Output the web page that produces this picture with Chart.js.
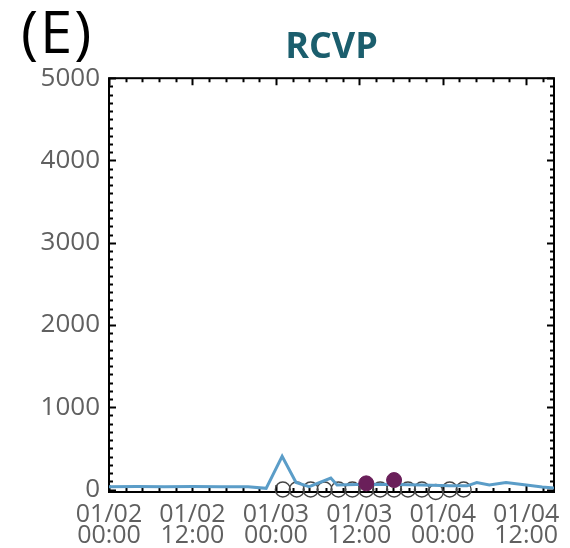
<!DOCTYPE html>
<html>
<head>
<meta charset="utf-8">
<script src="https://cdn.jsdelivr.net/npm/chart.js@4/dist/chart.umd.min.js"></script>
<style>
  html, body { margin: 0; padding: 0; background: #ffffff; }
  #wrap { position: relative; width: 570px; height: 548px; }
  #panel { position: absolute; left: 21px; top: -4px; font: 58px "Open Sans", sans-serif; letter-spacing: 2px; color: #000; line-height: 1.2; }
</style>
</head>
<body>
<div id="wrap">
  <canvas id="c" width="570" height="548"></canvas>
  <div id="panel">(E)</div>
</div>
<script>
// Hours since 01/02 00:00 and the measured series values
const lineHours  = [0, 4, 8, 12, 16, 20, 22.6, 24.9, 26.9, 28.8, 31.9, 32.8, 37, 41, 45, 49, 51.5, 52.9, 54.7, 57.1, 60, 62.3, 64];
const lineValues = [35, 38, 35, 38, 35, 35, 15, 405, 85, 35, 140, 55, 65, 60, 55, 45, 45, 85, 55, 85, 55, 30, 18];

// Open markers (no detection) every two hours
const openHours  = [25, 27, 29, 31, 33, 35, 37, 39, 41, 43, 45, 47, 49, 51];
const openValues = [0, 0, 0, 0, 0, 0, 0, 0, 0, 0, 0, -30, 0, 0];

// Filled markers (detections)
const hitHours  = [37, 41];
const hitValues = [75, 115];

// Axis ticks
const xTickHours  = [0, 12, 24, 36, 48, 60];
const xTickLabels = [['01/02', '00:00'], ['01/02', '12:00'], ['01/03', '00:00'], ['01/03', '12:00'], ['01/04', '00:00'], ['01/04', '12:00']];
const yTicks = [0, 1000, 2000, 3000, 4000, 5000];

const pts = (xs, ys) => xs.map((h, i) => ({ x: h, y: ys[i] }));

// Closed frame with inward major/minor ticks on all four sides
const framePlugin = {
  id: 'frame',
  beforeDatasetsDraw(chart) {
    const { ctx, chartArea: { left, right, top, bottom }, scales: { x, y } } = chart;
    ctx.save();
    ctx.strokeStyle = '#000';
    ctx.lineWidth = 2;
    ctx.strokeRect(left, top, right - left, bottom - top);
    ctx.beginPath();
    const xMinor = 2.4, yMinor = 100;
    for (let k = 0; k * xMinor <= x.max + 1e-6; k++) {
      const h = k * xMinor;
      const major = xTickHours.some(t => Math.abs(t - h) < 1e-6);
      const len = major ? 7 : 4;
      const px = Math.round(x.getPixelForValue(h)) + 0.5;
      ctx.moveTo(px, bottom); ctx.lineTo(px, bottom - len);
      ctx.moveTo(px, top); ctx.lineTo(px, top + len);
    }
    for (let v = 0; v <= 5000; v += yMinor) {
      const major = v % 1000 === 0;
      const len = major ? 7 : 4;
      const py = Math.round(y.getPixelForValue(v)) + 0.5;
      ctx.moveTo(left, py); ctx.lineTo(left + len, py);
      ctx.moveTo(right, py); ctx.lineTo(right - len, py);
    }
    ctx.lineWidth = 2;
    ctx.stroke();
    ctx.restore();
  }
};

new Chart(document.getElementById('c'), {
  type: 'scatter',
  data: {
    datasets: [
      {
        data: pts(lineHours, lineValues),
        showLine: true,
        borderColor: '#5b9dc8',
        borderWidth: 3,
        pointRadius: 0,
        tension: 0,
        order: 2
      },
      {
        data: pts(openHours, openValues),
        pointRadius: 7.5,
        pointBackgroundColor: 'rgba(0,0,0,0)',
        pointBorderColor: '#444444',
        pointBorderWidth: 1.4,
        clip: false,
        order: 3
      },
      {
        data: pts(hitHours, hitValues),
        pointRadius: 7.5,
        pointBackgroundColor: '#6a1f5a',
        pointBorderColor: '#6a1f5a',
        pointBorderWidth: 1,
        clip: false,
        order: 1
      }
    ]
  },
  options: {
    responsive: false,
    animation: false,
    devicePixelRatio: 1,
    layout: { padding: { left: 0, right: 16, top: 0, bottom: 0 } },
    plugins: {
      legend: { display: false },
      tooltip: { enabled: false },
      title: {
        display: true,
        text: 'RCVP',
        fullSize: false,
        color: '#1b5e6d',
        font: { family: '"Open Sans", sans-serif', size: 36, weight: 'bold', lineHeight: 1.2 },
        padding: { top: 26, bottom: 9 }
      }
    },
    scales: {
      x: {
        type: 'linear',
        min: 0,
        max: 64,
        grid: { display: false, drawTicks: false },
        border: { display: false },
        afterBuildTicks: s => { s.ticks = xTickHours.map(v => ({ value: v })); },
        afterFit: s => { s.height = 56; s.paddingLeft = 0; s.paddingRight = 0; },
        ticks: {
          autoSkip: false,
          maxRotation: 0,
          padding: 12,
          color: '#606060',
          font: { family: '"Open Sans", sans-serif', size: 25, lineHeight: 0.86 },
          callback: v => xTickLabels[xTickHours.indexOf(v)] || ''
        }
      },
      y: {
        min: -30,
        max: 5000,
        grid: { display: false, drawTicks: false },
        border: { display: false },
        afterBuildTicks: s => { s.ticks = yTicks.map(v => ({ value: v })); },
        afterFit: s => { s.width = 109; },
        ticks: {
          padding: 9,
          color: '#606060',
          font: { family: '"Open Sans", sans-serif', size: 26 },
          callback: v => String(v)
        }
      }
    }
  },
  plugins: [framePlugin]
});
</script>
</body>
</html>
